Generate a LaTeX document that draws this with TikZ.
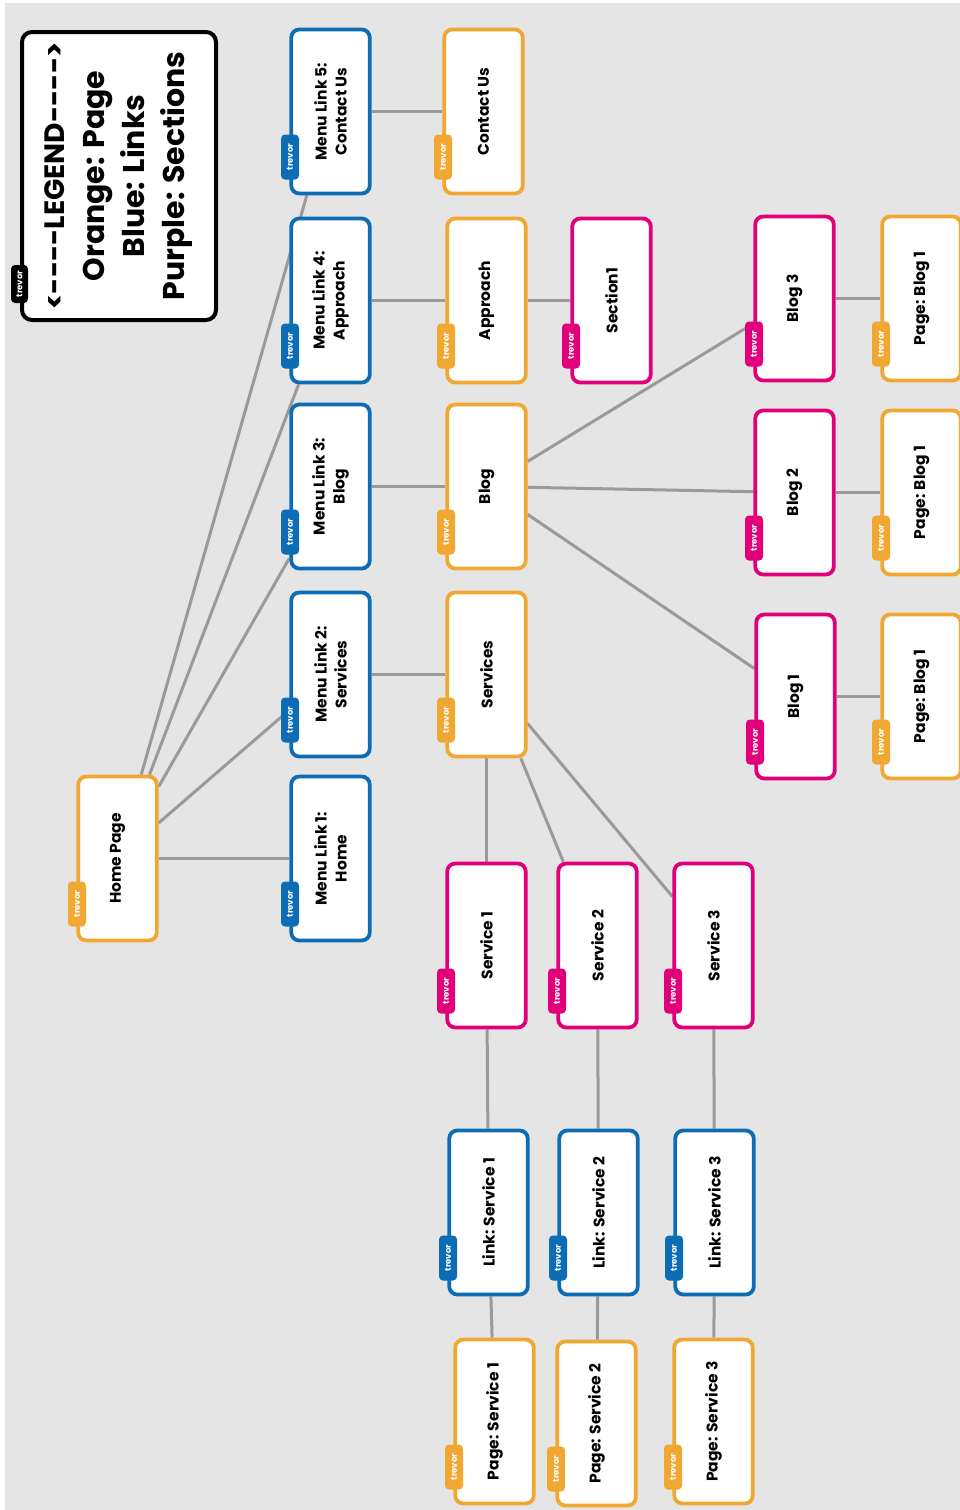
\documentclass[tikz,border=0pt]{standalone}
\usepackage{fontspec}
\newfontfamily\pop{Poppins}
\definecolor{orangeC}{RGB}{240,168,50}
\definecolor{blueC}{RGB}{12,108,180}
\definecolor{pinkC}{RGB}{226,0,122}
\definecolor{edgeC}{RGB}{154,154,154}
\definecolor{bgC}{RGB}{229,229,229}
\newcommand\dsh{\hbox{-}}
\pgfdeclarelayer{edgelayer}
\pgfsetlayers{edgelayer,main}
\tikzset{
  box/.style={draw=#1, line width=3.8pt, fill=white, rounded corners=8pt,
    minimum width=164pt, minimum height=78.5pt, rotate=90, align=center,
    inner sep=0pt, font=\pop\bfseries\fontsize{15.5}{20}\selectfont},
  tagbox/.style={fill=#1, rounded corners=4pt, rotate=90, minimum width=45pt,
    minimum height=18pt, inner sep=0pt, text=white, font=\pop\bfseries\fontsize{8.5}{9}\selectfont},
  link/.style={draw=edgeC, line width=3pt},
}
\newcommand\tbox[5]{%
  \node[box=#2] (#1) at (#3,#4) {#5};
  \node[tagbox=#2] (#1t) at (#3-40.5,#4+45.5) {trevor};
}
\begin{document}
\begin{tikzpicture}[x=1pt,y=-1pt]
\useasboundingbox (0,0) rectangle (960,1510);
\begin{pgfonlayer}{edgelayer}
\fill[white] (0,0) rectangle (960,1510);
\fill[bgC] (5,3) rectangle (960,1510);
\end{pgfonlayer}
% legend
\node[draw=black, line width=4pt, fill=white, rounded corners=10pt, rotate=90,
  minimum width=288pt, minimum height=194pt, align=center, inner sep=0pt,
  font=\pop\bfseries\fontsize{30}{40}\selectfont] (legend) at (119,176)
  {{\fontsize{28}{40}\selectfont<\dsh\dsh\dsh\dsh LEGEND\dsh\dsh\dsh\dsh>}\\Orange: Page\\Blue: Links\\Purple: Sections};
\node[tagbox=black, minimum width=38pt, minimum height=17pt] (legendt) at (19.5,284) {trevor};
% nodes
\tbox{ml5}{blueC}{330.5}{111.5}{Menu Link 5:\\Contact Us}
\tbox{contact}{orangeC}{483.5}{111.5}{Contact Us}
\tbox{ml4}{blueC}{330.5}{300.5}{Menu Link 4:\\Approach}
\tbox{approach}{orangeC}{486.5}{300.5}{Approach}
\tbox{section}{pinkC}{611.5}{300.5}{Section1}
\tbox{blog3}{pinkC}{794.5}{298.5}{Blog 3}
\tbox{pbA}{orangeC}{921.5}{298.5}{Page: Blog 1}
\tbox{ml3}{blueC}{330.5}{486.5}{Menu Link 3:\\Blog}
\tbox{blog}{orangeC}{486.5}{486.5}{Blog}
\tbox{blog2}{pinkC}{794.5}{492.5}{Blog 2}
\tbox{pbB}{orangeC}{921.5}{492.5}{Page: Blog 1}
\tbox{ml2}{blueC}{330.5}{674.5}{Menu Link 2:\\Services}
\tbox{services}{orangeC}{486.5}{674.5}{Services}
\tbox{blog1}{pinkC}{795.5}{696.5}{Blog 1}
\tbox{pbC}{orangeC}{921.5}{696.5}{Page: Blog 1}
\tbox{home}{orangeC}{117.5}{858.5}{Home Page}
\tbox{ml1}{blueC}{330.5}{858.5}{Menu Link 1:\\Home}
\tbox{s1}{pinkC}{486.5}{945.5}{Service 1}
\tbox{s2}{pinkC}{597.5}{945.5}{Service 2}
\tbox{s3}{pinkC}{713.5}{945.5}{Service 3}
\tbox{ls1}{blueC}{488.5}{1212.5}{Link: Service 1}
\tbox{ls2}{blueC}{598.5}{1212.5}{Link: Service 2}
\tbox{ls3}{blueC}{714.5}{1212.5}{Link: Service 3}
\tbox{ps1}{orangeC}{494.5}{1421.5}{Page: Service 1}
\tbox{ps2}{orangeC}{596.5}{1423.5}{Page: Service 2}
\tbox{ps3}{orangeC}{713.5}{1421.5}{Page: Service 3}
% edges
\begin{pgfonlayer}{edgelayer}
\draw[link] (home) -- (ml1);
\draw[link] (home) -- (ml2);
\draw[link] (home) -- (ml3);
\draw[link] (home) -- (ml4);
\draw[link] (home) -- (ml5);
\draw[link] (ml5) -- (contact);
\draw[link] (ml4) -- (approach);
\draw[link] (approach) -- (section);
\draw[link] (ml3) -- (blog);
\draw[link] (blog) -- (blog3);
\draw[link] (blog) -- (blog2);
\draw[link] (blog) -- (blog1);
\draw[link] (blog3) -- (pbA);
\draw[link] (blog2) -- (pbB);
\draw[link] (blog1) -- (pbC);
\draw[link] (ml2) -- (services);
\draw[link] (services) -- (s1);
\draw[link] (services) -- (s2);
\draw[link] (services) -- (s3);
\draw[link] (s1) -- (ls1);
\draw[link] (s2) -- (ls2);
\draw[link] (s3) -- (ls3);
\draw[link] (ls1) -- (ps1);
\draw[link] (ls2) -- (ps2);
\draw[link] (ls3) -- (ps3);
\end{pgfonlayer}
\end{tikzpicture}
\end{document}
